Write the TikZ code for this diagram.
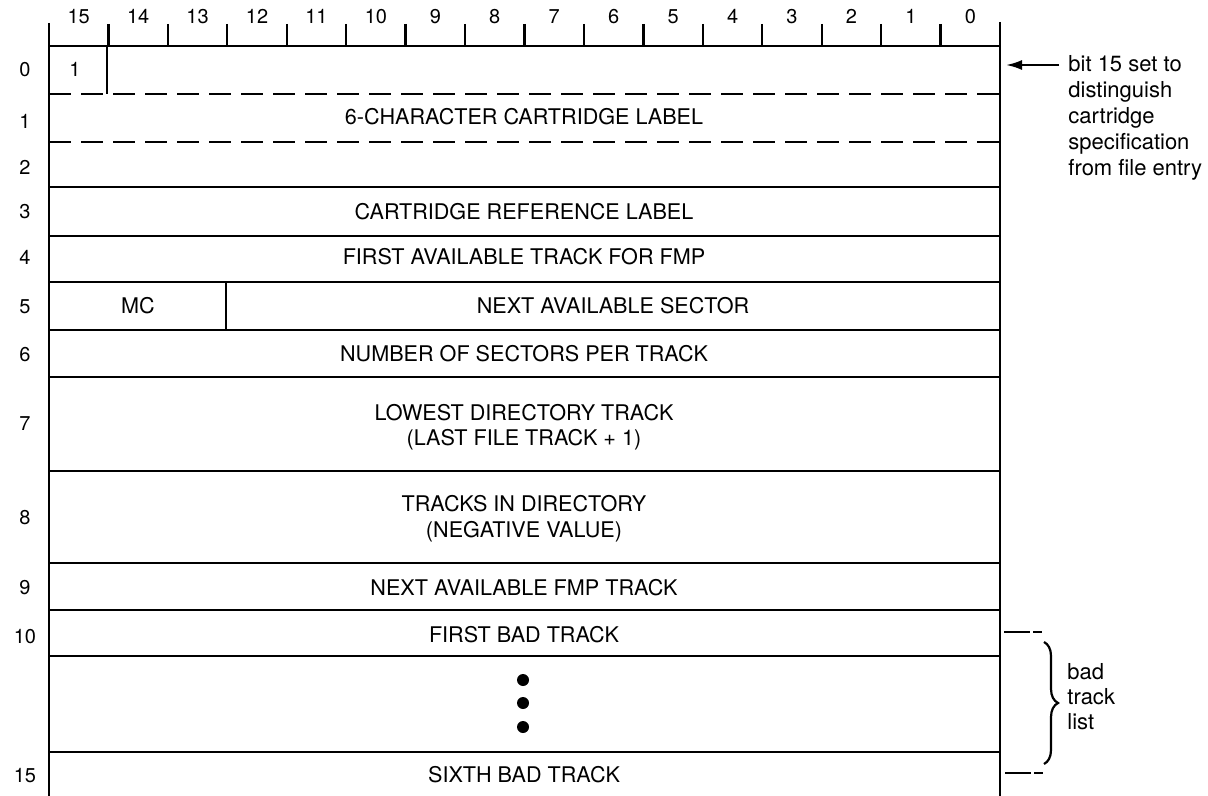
\documentclass[tikz,border=0pt]{standalone}
\usepackage{fontspec}
\setmainfont{TeX Gyre Heros}
\usetikzlibrary{arrows.meta,decorations.pathreplacing}
\begin{document}
\begin{tikzpicture}[x=0.5pt,y=-0.5pt,
  bord/.style={line width=1.15pt},
  dashrow/.style={line width=1.15pt, dash pattern=on 11pt off 5pt},
  fieldtext/.style={font=\fontsize{10.8}{13}\selectfont, anchor=base, inner sep=0pt},
  numtext/.style={font=\fontsize{10}{12}\selectfont, anchor=base, inner sep=0pt},
  notetext/.style={font=\fontsize{11}{13}\selectfont, anchor=base west, inner sep=0pt},
  dotmark/.style={circle, fill=black, minimum size=6pt, inner sep=0pt},
  endtick/.style={line width=1.1pt, dash pattern=on 13pt off 1.5pt on 4.5pt off 20pt}
]
\useasboundingbox (0,0) rectangle (1208,796);

% outer frame and ruler
\draw[bord] (49,23) -- (49,796);
\draw[bord] (1000,22) -- (1000,796);
\draw[bord] (49,46) -- (1000,46);
\foreach \k in {1,...,15} {
  \draw[bord] ({49+\k*59.44},24) -- ({49+\k*59.44},46);
}
\foreach \k in {0,...,15} {
  \pgfmathtruncatemacro{\b}{15-\k}
  \node[numtext] (bit\b) at ({49+(\k+0.5)*59.44},24) {\b};
}

% row separators
\draw[dashrow] (49,94) -- (1000,94);
\draw[dashrow] (49,142) -- (1000,142);
\foreach \yy in {187,236,282,330,377,471,563,610,656,752} {
  \draw[bord] (49,\yy) -- (1000,\yy);
}
\draw[bord] (107,46) -- (107,94);
\draw[bord] (226,282) -- (226,330);

% row numbers
\node[numtext] (w0) at (25,77) {0};
\node[numtext] (w1) at (25,129) {1};
\node[numtext] (w2) at (25,175) {2};
\node[numtext] (w3) at (25,219) {3};
\node[numtext] (w4) at (25,265) {4};
\node[numtext] (w5) at (25,314) {5};
\node[numtext] (w6) at (25,361) {6};
\node[numtext] (w7) at (25,430) {7};
\node[numtext] (w8) at (25,524) {8};
\node[numtext] (w9) at (25,594) {9};
\node[numtext] (w10) at (25,643) {10};
\node[numtext] (w15) at (25,782) {15};

% field texts
\node[numtext] (one) at (75,77) {1};
\node[fieldtext] (f1) at (524,125) {6-CHARACTER CARTRIDGE LABEL};
\node[fieldtext] (f3) at (524,220) {CARTRIDGE REFERENCE LABEL};
\node[fieldtext] (f4) at (524,265) {FIRST AVAILABLE TRACK FOR FMP};
\node[fieldtext] (mc) at (138,314) {MC};
\node[fieldtext] (f5) at (613,314) {NEXT AVAILABLE SECTOR};
\node[fieldtext] (f6) at (524,361) {NUMBER OF SECTORS PER TRACK};
\node[fieldtext] (f7a) at (524,420) {LOWEST DIRECTORY TRACK};
\node[fieldtext] (f7b) at (524,445) {(LAST FILE TRACK + 1)};
\node[fieldtext] (f8a) at (524,511) {TRACKS IN DIRECTORY};
\node[fieldtext] (f8b) at (524,537) {(NEGATIVE VALUE)};
\node[fieldtext] (f9) at (524,595) {NEXT AVAILABLE FMP TRACK};
\node[fieldtext] (f10) at (524,642) {FIRST BAD TRACK};
\node[dotmark] (d1) at (523,680) {};
\node[dotmark] (d2) at (523,703) {};
\node[dotmark] (d3) at (523,727) {};
\node[fieldtext] (f15) at (524,782) {SIXTH BAD TRACK};

% annotation for word 0
\coordinate (arrtail) at (1059,65);
\coordinate (arrtip) at (1006,65);
\draw[line width=1.1pt, -{Latex[length=8pt,width=5pt]}] (arrtail) -- (arrtip);
\node[notetext] (n1) at (1068,72) {bit 15 set to};
\node[notetext] (n2) at (1068,98) {distinguish};
\node[notetext] (n3) at (1068,124) {cartridge};
\node[notetext] (n4) at (1068,150) {specification};
\node[notetext] (n5) at (1068,176) {from file entry};

% bad track list
\coordinate (t1a) at (1004,632);
\coordinate (t1b) at (1042,632);
\coordinate (t2a) at (1005,773);
\coordinate (t2b) at (1043,773);
\draw[endtick] (t1a) -- (t1b);
\draw[endtick] (t2a) -- (t2b);
\coordinate (bra) at (1044,642);
\coordinate (brb) at (1044,764);
\draw[line width=1.1pt, decorate, decoration={brace, amplitude=7pt}] (bra) -- (brb);
\node[notetext] (b1) at (1067,679) {bad};
\node[notetext] (b2) at (1067,704) {track};
\node[notetext] (b3) at (1067,729) {list};
\end{tikzpicture}
\end{document}
